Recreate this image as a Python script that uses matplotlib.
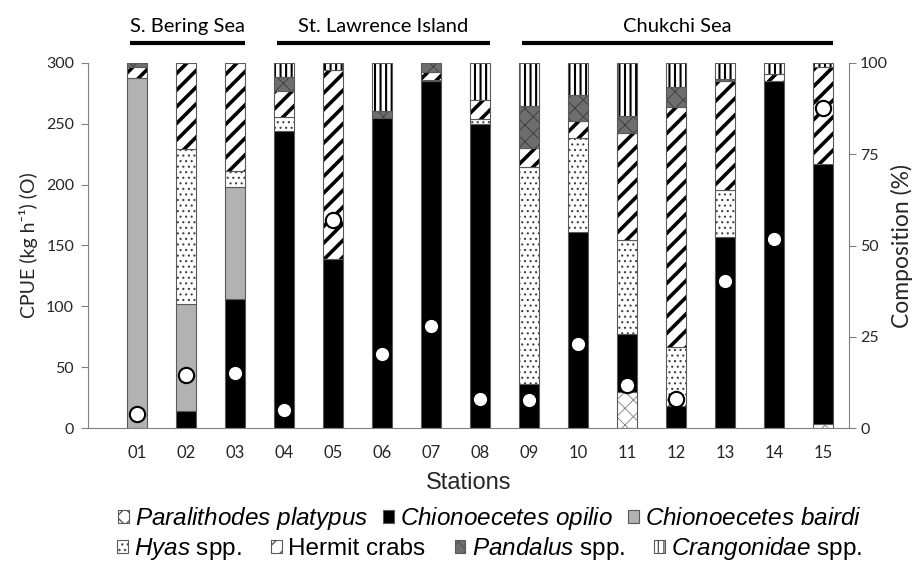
import numpy as np
import matplotlib as mpl
import matplotlib.pyplot as plt
from matplotlib.patches import Patch

plt.rcParams['font.family'] = ['Lato', 'DejaVu Sans']
plt.rcParams['mathtext.fontset'] = 'custom'
plt.rcParams['mathtext.rm'] = 'Liberation Sans'
plt.rcParams['mathtext.it'] = 'Liberation Sans:italic'

stations = ['01', '02', '03', '04', '05', '06', '07', '08',
            '09', '10', '11', '12', '13', '14', '15']

# species composition (%) per station, stacked bottom to top
paralithodes = [0, 0, 0, 0, 0, 0, 0, 0, 0, 0, 9.8, 0, 0, 0, 1.0]
opilio = [0, 4.6, 35.4, 81.5, 46.4, 84.9, 95.0, 83.3, 12.1, 53.6, 16.0, 5.9, 52.2, 95.2, 71.4]
bairdi = [96.0, 29.4, 30.5, 0, 0, 0, 0, 0, 0, 0, 0, 0, 0, 0, 0]
hyas = [0, 42.4, 4.4, 3.8, 0, 0, 0.3, 1.4, 59.4, 25.9, 25.8, 16.2, 13.1, 0, 0]
hermit = [2.8, 23.6, 29.7, 6.9, 51.8, 0, 2.2, 5.3, 5.2, 4.7, 29.2, 65.8, 29.7, 1.8, 26.4]
pandalus = [1.2, 0, 0, 4.0, 0, 2.0, 2.5, 0, 11.4, 7.1, 4.6, 5.4, 0.7, 0, 0]
crangonidae = [0, 0, 0, 3.8, 1.8, 13.1, 0, 10.0, 11.9, 8.7, 14.6, 6.7, 4.3, 3.0, 1.2]

# catch per unit effort (kg/h)
cpue = [11.8, 43.3, 45.2, 14.8, 171, 61, 83.6, 24, 22.7, 69, 35.6, 23.8, 121, 155, 263]

regions = ['S. Bering Sea', 'St. Lawrence Island', 'Chukchi Sea']
region_span = [(1, 3), (4, 8), (9, 15)]

labels = [r'$\mathit{Paralithodes\ platypus}$', r'$\mathit{Chionoecetes\ opilio}$',
          r'$\mathit{Chionoecetes\ bairdi}$', r'$\mathit{Hyas}$ spp.', 'Hermit crabs',
          r'$\mathit{Pandalus}$ spp.', r'$\mathit{Crangonidae}$ spp.']

# face, hatch, hatch colour, hatch width
styles = [
    ('white', 'xx', '#7f7f7f', 0.6),
    ('black', None, 'black', 0.6),
    ('#b2b2b2', None, '#b2b2b2', 0.6),
    ('white', '...', '#404040', 0.8),
    ('white', '//', 'black', 2.6),
    ('#6e6e6e', 'xx', '#3a3a3a', 0.6),
    ('white', '|||', 'black', 1.5),
]
series = [paralithodes, opilio, bairdi, hyas, hermit, pandalus, crangonidae]

fig = plt.figure(figsize=(9.14, 5.71), dpi=100)
ax = fig.add_axes([88 / 914, 1 - 428 / 571, 761 / 914, 365 / 571])
ax2 = ax.twinx()

x = np.arange(1, len(stations) + 1)
width = 0.41
bottom = np.zeros(len(stations))
for vals, (face, hatch, hcol, hlw) in zip(series, styles):
    v = np.array(vals, dtype=float)
    m = v > 0
    with mpl.rc_context({'hatch.linewidth': hlw}):
        ax.bar(x[m], v[m], width, bottom=bottom[m], color=face,
               edgecolor=hcol, linewidth=0, hatch=hatch)
    ax.bar(x[m], v[m], width, bottom=bottom[m], facecolor='none',
           edgecolor='#595959', linewidth=0.8)
    bottom += v

ax.set_xlim(0, 15.53)
ax.set_ylim(0, 100)
ax.set_yticks([0, 25, 50, 75, 100])
ax.yaxis.tick_right()
ax.yaxis.set_label_position('right')
ax.set_ylabel('Composition (%)', fontsize=16.5, color='#262626', labelpad=2)
ax.set_xticks(x, stations)
ax.tick_params(axis='x', length=0, pad=12, labelsize=12, labelcolor='#262626')
ax.tick_params(axis='y', direction='out', length=5, color='#808080',
               labelsize=11.5, labelcolor='#262626', pad=3)
ax.set_xlabel('Stations', family='Liberation Sans', fontsize=17, color='#262626', labelpad=8)
for s in ['top', 'left']:
    ax.spines[s].set_visible(False)
for s in ['right', 'bottom']:
    ax.spines[s].set_color('#808080')

ax2.plot(x, cpue, 'o', ms=11, mfc='white', mec='black', mew=1.5, clip_on=False)
ax2.set_ylim(0, 300)
ax2.set_yticks(np.arange(0, 301, 50))
ax2.yaxis.tick_left()
ax2.yaxis.set_label_position('left')
ax2.set_ylabel('CPUE (kg h⁻¹) (O)', fontsize=14, color='#262626', labelpad=6)
ax2.tick_params(axis='y', direction='out', length=5, color='#808080',
                labelsize=11.5, labelcolor='#262626', pad=5)
for s in ['top', 'right', 'bottom']:
    ax2.spines[s].set_visible(False)
ax2.spines['left'].set_color('#808080')

# region brackets above the bars
tr = ax.get_xaxis_transform()
for name, (a, b) in zip(regions, region_span):
    ax.plot([a - 0.15, b + 0.2], [1.055, 1.055], transform=tr, color='black',
            lw=3, clip_on=False, solid_capstyle='butt')
    ax.text((a + b) / 2 + 0.02, 1.1, name, transform=tr, ha='center',
            va='center', fontsize=14.5, color='black')

handles = []
for (face, hatch, hcol, hlw), lab in zip(styles, labels):
    handles.append(Patch(facecolor=face, edgecolor='#595959', hatch=hatch,
                         linewidth=0.8, label=lab))

leg_kw = dict(frameon=False, handlelength=0.45, handleheight=0.45,
              handletextpad=0.25, prop={'family': 'Liberation Sans', 'size': 17.5})
fig.legend(handles=handles[:3], loc='center', bbox_to_anchor=(0.536, 0.092),
           ncol=3, columnspacing=0.6, **leg_kw)
fig.legend(handles=handles[3:], loc='center', bbox_to_anchor=(0.536, 0.039),
           ncol=4, columnspacing=1.2, **leg_kw)

fig.savefig('out.png', dpi=100)
